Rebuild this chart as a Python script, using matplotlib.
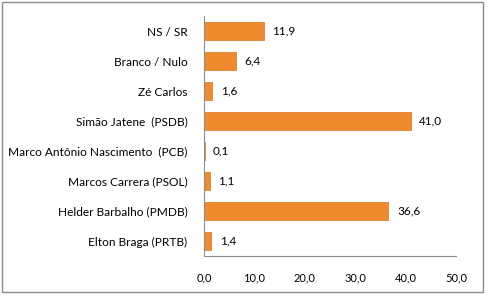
import matplotlib
matplotlib.use("Agg")
import matplotlib.pyplot as plt
from matplotlib.patches import Rectangle

categories = ["Elton Braga (PRTB)", "Helder Barbalho (PMDB)", "Marcos Carrera (PSOL)",
              "Marco Antônio Nascimento  (PCB)", "Simão Jatene  (PSDB)", "Zé Carlos",
              "Branco / Nulo", "NS / SR"]
values = [1.4, 36.6, 1.1, 0.1, 41.0, 1.6, 6.4, 11.9]
xticks = [0, 10, 20, 30, 40, 50]

plt.rcParams['font.family'] = ['Lato', 'DejaVu Sans']

fig = plt.figure(figsize=(4.90, 2.99), dpi=100)
fig.patches.append(Rectangle((2/490, 1 - 292/299), 481/490, 290/299, transform=fig.transFigure,
                             fill=False, edgecolor='#8c8c8c', linewidth=1.0))
ax = fig.add_axes([204/490, 1 - 256/299, 252/490, 240/299])

y = list(range(len(categories)))
ax.barh(y, values, height=0.57, color='#F08A2E', edgecolor='#D9731C', linewidth=0.5)
for yi, v in zip(y, values):
    ax.text(v + 1.7, yi, f"{v:.1f}".replace('.', ','), va='center', ha='left', fontsize=8.5, color='#000000')

ax.set_xlim(0, 50)
ax.set_ylim(-0.5, len(categories) - 0.5)
ax.set_xticks(xticks)
ax.set_xticklabels([f"{t:.1f}".replace('.', ',') for t in xticks], fontsize=8)
ax.set_yticks(y)
ax.set_yticklabels(categories, fontsize=8.6)
ax.tick_params(axis='both', length=0)
ax.tick_params(axis='x', pad=12)
ax.tick_params(axis='y', pad=12)
for s in ['top', 'right']:
    ax.spines[s].set_visible(False)
for s in ['left', 'bottom']:
    ax.spines[s].set_color('#8c8c8c')
    ax.spines[s].set_linewidth(0.8)

fig.savefig("out.png", dpi=100)
